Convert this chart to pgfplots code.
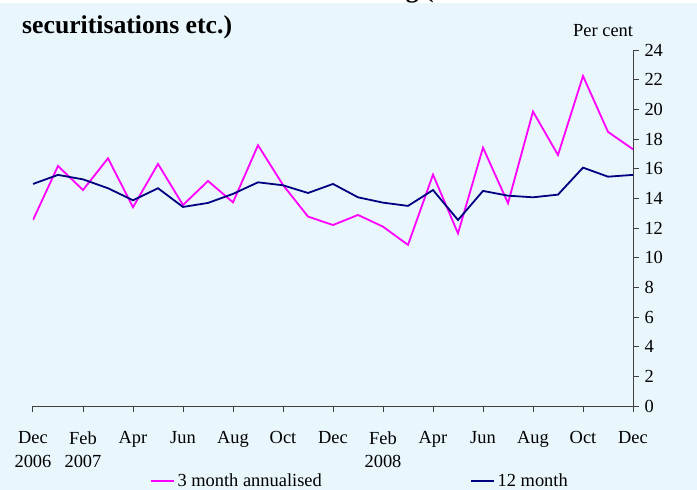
\documentclass[border=0pt]{standalone}
\usepackage{fontspec}
\setmainfont{Liberation Serif}
\usepackage{pgfplots}
\pgfplotsset{compat=1.18}
\definecolor{bgblue}{RGB}{233,246,252}
\definecolor{navyline}{RGB}{0,0,128}
\definecolor{pinkline}{RGB}{255,0,255}
\newcommand{\fs}{\fontsize{18.5}{22}\selectfont}
\begin{document}
\begin{tikzpicture}
\useasboundingbox (0,0) rectangle (697bp,-490bp);
\fill[white] (0,0) rectangle (697bp,-3bp);
\fill[bgblue] (0,-3bp) rectangle (697bp,-490bp);
\node[anchor=base west, font=\fontsize{25.8}{30}\selectfont\bfseries, inner sep=0] at (22bp,2.5bp) {Chart 4 Growth rates of M4 lending (excl. the effects of};
\node[anchor=base west, font=\fontsize{25.8}{30}\selectfont\bfseries, inner sep=0] at (22bp,-33bp) {securitisations etc.)};
\node[anchor=base west, font=\fs, inner sep=0] at (573bp,-36bp) {Per cent};
\begin{axis}[
  at={(33bp,-406bp)}, anchor=south west,
  scale only axis, width=600bp, height=356bp,
  xmin=0, xmax=24, ymin=0, ymax=24,
  axis x line*=bottom, axis y line*=right,
  axis line style={black!75, line width=1bp, -},
  xtick={0,2,...,24},
  xticklabels={Dec,Feb,Apr,Jun,Aug,Oct,Dec,Feb,Apr,Jun,Aug,Oct,Dec},
  ytick={0,2,...,24},
  tick align=outside, major tick length=6bp,
  tick style={black!75, line width=1bp},
  ticklabel style={font=\fs},
  yticklabel style={xshift=2bp},
  /pgf/number format/assume math mode=true,
  xticklabel style={anchor=north, yshift=-16bp},
  extra x ticks={0,2,14},
  extra x tick labels={2006,2007,2008},
  extra x tick style={major tick length=0pt, xticklabel style={yshift=-30bp}},
  legend columns=2,
  legend style={at={(axis description cs:0,0)}, anchor=west, xshift=117bp, yshift=-75bp,
    draw=none, fill=none, inner sep=0pt, font=\fs,
    nodes={inner sep=2.5bp},
    /tikz/every even column/.append style={column sep=146bp}},
  legend image code/.code={\draw[#1] (0bp,0bp) -- (23bp,0bp);},
]
\addplot[pinkline, line width=1.8bp] coordinates {
(0,12.54) (1,16.18) (2,14.56) (3,16.70) (4,13.40) (5,16.32) (6,13.55) (7,15.17) (8,13.73) (9,17.58) (10,14.90) (11,12.77) (12,12.20) (13,12.88) (14,12.09) (15,10.86) (16,15.60) (17,11.64) (18,17.42) (19,13.67) (20,19.85) (21,16.92) (22,22.25) (23,18.48) (24,17.31)};
\addlegendentry{3 month annualised}
\addplot[navyline, line width=1.8bp] coordinates {
(0,14.97) (1,15.58) (2,15.28) (3,14.68) (4,13.87) (5,14.68) (6,13.42) (7,13.69) (8,14.30) (9,15.08) (10,14.88) (11,14.36) (12,14.97) (13,14.07) (14,13.71) (15,13.49) (16,14.56) (17,12.54) (18,14.50) (19,14.18) (20,14.07) (21,14.25) (22,16.07) (23,15.46) (24,15.58)};
\addlegendentry{12 month}
\end{axis}
\end{tikzpicture}
\end{document}
